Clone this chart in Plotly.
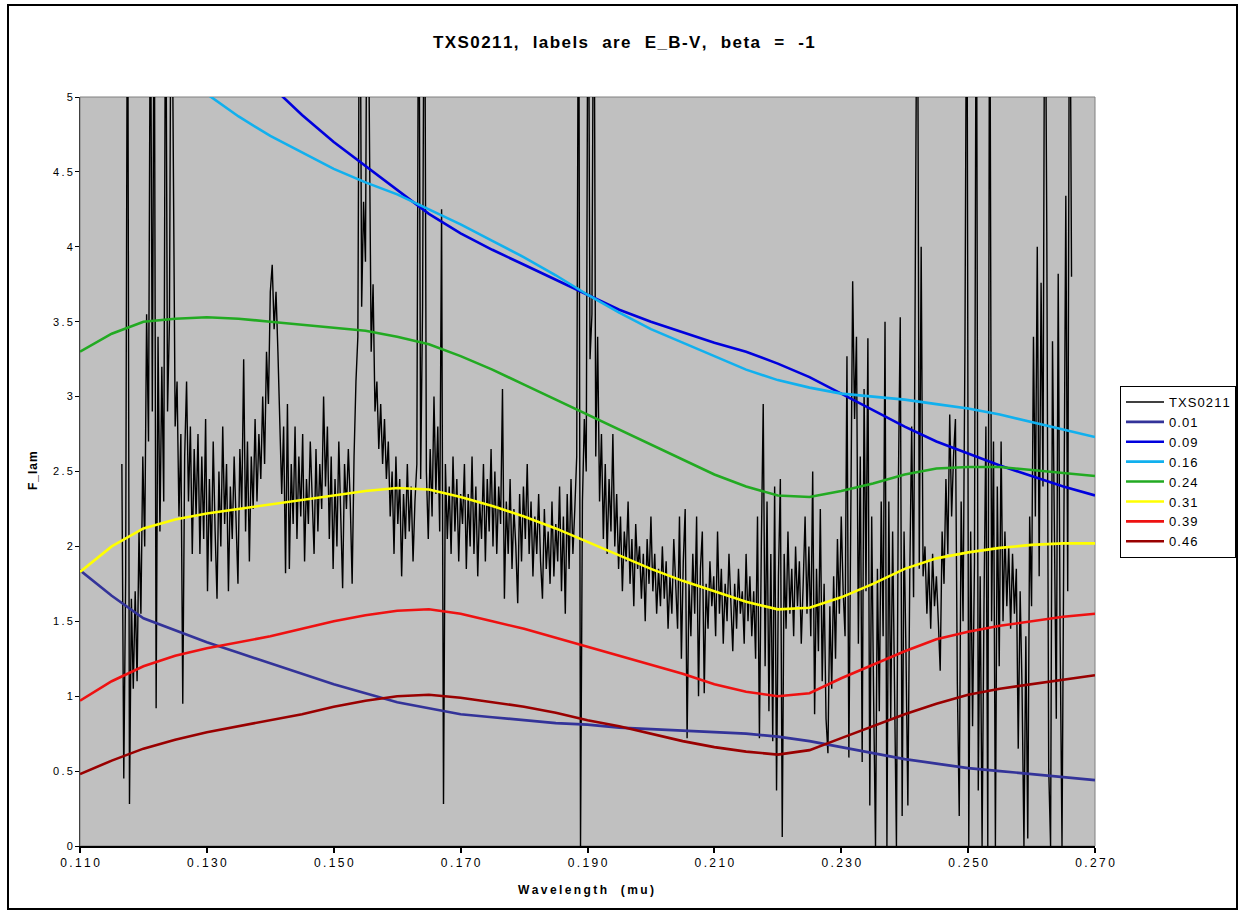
import plotly.graph_objects as go

# ---------------- data ----------------
# TXS0211 spectrum: sampled every WL_STEP microns starting at WL_START
WL_START = 0.1166
WL_STEP = 0.0003
TXS0211_FLUX = [
    2.55, 0.45, 1.80, 6.50, 0.28, 1.65, 1.05, 1.70, 1.10, 2.10, 1.55, 2.60, 2.00, 3.55, 2.70, 6.00, 2.90, 6.00, 0.92, 3.40,
    2.10, 3.20, 2.30, 6.20, 2.90, 3.50, 6.50, 4.40, 2.80, 3.10, 2.20, 2.75, 0.95, 2.60, 3.10, 2.30, 2.80, 1.95, 2.65, 2.20,
    2.75, 1.95, 2.60, 2.05, 2.85, 1.70, 2.45, 1.90, 2.70, 2.10, 1.65, 2.50, 2.00, 2.80, 2.15, 2.55, 1.70, 2.40, 2.05, 2.60,
    2.20, 1.75, 2.65, 2.25, 3.25, 2.10, 2.70, 1.90, 2.60, 2.25, 2.85, 2.30, 2.75, 2.45, 3.00, 2.55, 3.30, 2.95, 3.70, 3.88,
    3.45, 3.70, 3.30, 2.75, 2.35, 2.80, 1.82, 2.95, 1.85, 2.55, 2.15, 2.80, 2.05, 2.60, 2.20, 2.75, 1.90, 2.45, 2.15, 2.70,
    2.30, 1.95, 2.65, 2.10, 2.55, 2.25, 3.00, 2.40, 2.80, 2.05, 2.60, 1.85, 2.45, 2.00, 2.70, 2.20, 1.72, 2.55, 2.25, 2.65,
    2.30, 1.75, 2.60, 3.10, 3.40, 6.50, 3.60, 4.30, 3.90, 6.50, 4.60, 3.30, 3.75, 2.90, 3.10, 2.65, 2.95, 2.55, 2.85, 2.45,
    2.70, 2.20, 2.50, 1.95, 2.60, 2.15, 2.45, 1.80, 2.35, 2.05, 2.55, 2.10, 2.40, 1.90, 2.30, 2.55, 6.50, 2.45, 3.60, 6.50,
    2.50, 2.05, 2.65, 2.20, 3.00, 2.35, 2.80, 2.10, 4.25, 0.28, 2.55, 2.05, 2.40, 1.95, 2.60, 2.10, 2.45, 1.90, 2.35, 2.15,
    2.55, 1.85, 2.35, 2.00, 2.60, 1.95, 2.40, 1.80, 2.30, 2.05, 2.55, 1.90, 2.45, 2.10, 2.65, 2.00, 2.50, 1.95, 2.40, 2.15,
    3.05, 1.65, 2.30, 1.95, 2.45, 1.85, 2.25, 2.00, 1.62, 2.35, 1.90, 2.40, 2.05, 2.55, 1.95, 2.30, 1.80, 2.20, 1.95, 2.35,
    1.90, 1.65, 2.25, 1.85, 2.10, 1.75, 2.30, 1.80, 2.15, 1.90, 2.40, 1.70, 2.20, 1.55, 2.35, 1.85, 2.45, 1.95, 2.25, 2.60,
    6.50, 0.00, 2.30, 2.85, 2.50, 6.50, 3.25, 3.55, 6.50, 2.60, 3.40, 2.30, 2.75, 2.05, 2.55, 1.95, 2.45, 2.10, 2.75, 2.00,
    2.35, 1.85, 2.20, 1.70, 2.10, 1.90, 2.30, 1.75, 2.05, 1.60, 2.15, 1.85, 2.00, 1.65, 1.95, 1.50, 2.05, 1.75, 2.20, 1.70,
    1.95, 1.55, 1.85, 1.60, 2.00, 1.65, 1.90, 1.45, 1.80, 1.55, 2.05, 1.70, 1.45, 2.20, 1.25, 1.90, 2.25, 0.72, 1.75, 1.40,
    1.95, 1.55, 2.20, 1.00, 1.85, 2.10, 1.02, 1.75, 1.45, 1.90, 1.60, 1.80, 1.40, 2.10, 1.55, 1.85, 1.35, 1.75, 1.50, 1.95,
    1.60, 1.30, 1.75, 1.45, 1.85, 1.55, 1.70, 1.35, 1.95, 1.50, 1.80, 1.40, 1.70, 1.25, 2.20, 0.72, 2.00, 2.95, 1.20, 2.30,
    0.90, 1.95, 0.70, 2.40, 0.37, 1.80, 2.45, 0.06, 1.95, 1.45, 2.10, 1.55, 1.85, 1.40, 2.00, 1.60, 1.90, 1.35, 1.75, 2.20,
    1.55, 2.00, 1.40, 2.50, 0.88, 1.85, 1.30, 2.25, 1.10, 1.75, 0.85, 0.62, 1.60, 1.05, 1.80, 1.25, 2.05, 1.55, 2.20, 1.70,
    1.40, 3.27, 0.59, 2.40, 3.77, 2.85, 3.40, 1.35, 2.60, 0.56, 3.05, 1.70, 3.39, 0.27, 2.20, 1.00, 0.00, 1.85, 0.90, 2.30,
    1.40, 3.50, 0.00, 2.30, 0.85, 2.10, 1.20, 0.00, 2.40, 3.53, 0.20, 2.10, 1.30, 0.27, 1.80, 2.80, 1.66, 3.95, 6.50, 1.85,
    4.00, 1.80, 2.00, 1.55, 1.90, 1.45, 1.95, 1.60, 1.80, 1.50, 1.17, 2.10, 1.75, 2.45, 1.95, 2.88, 2.20, 2.60, 2.85, 1.08,
    0.20, 2.30, 1.50, 3.34, 6.50, 0.00, 2.10, 0.80, 1.90, 6.50, 0.37, 1.80, 0.00, 1.60, 2.80, 0.00, 6.50, 1.50, 2.70, 0.00,
    2.40, 1.20, 2.70, 1.50, 2.10, 1.60, 2.00, 1.45, 1.95, 1.55, 1.85, 0.65, 1.70, 1.05, 0.00, 1.40, 0.05, 2.20, 1.60, 3.40,
    2.20, 4.00, 1.80, 3.76, 2.40, 6.50, 4.10, 0.52, 0.00, 3.37, 2.15, 0.85, 3.82, 1.40, 0.00, 2.60, 4.34, 1.70, 6.50, 3.80,
]

# Model curves, one per E(B-V) value, on a common wavelength grid
MODEL_WL = [0.110, 0.115, 0.120, 0.125, 0.130, 0.135, 0.140, 0.145, 0.150, 0.155, 0.160,
            0.165, 0.170, 0.175, 0.180, 0.185, 0.190, 0.195, 0.200, 0.205, 0.210, 0.215,
            0.220, 0.225, 0.230, 0.235, 0.240, 0.245, 0.250, 0.255, 0.260, 0.265, 0.270]
FLUX_E001 = [1.84, 1.67, 1.52, 1.44, 1.36, 1.29, 1.22, 1.15, 1.08, 1.02, 0.96,
             0.92, 0.88, 0.86, 0.84, 0.82, 0.81, 0.79, 0.78, 0.77, 0.76, 0.75,
             0.73, 0.70, 0.66, 0.62, 0.58, 0.55, 0.52, 0.50, 0.48, 0.46, 0.44]
FLUX_E009 = [None, None, None, None, None, None, 5.08, 4.88, 4.70, 4.54, 4.38,
             4.22, 4.09, 3.98, 3.88, 3.78, 3.68, 3.58, 3.50, 3.43, 3.36, 3.30,
             3.22, 3.13, 3.02, 2.91, 2.80, 2.70, 2.62, 2.54, 2.47, 2.40, 2.34]
FLUX_E016 = [None, None, None, None, 5.02, 4.87, 4.74, 4.63, 4.52, 4.43, 4.35,
             4.25, 4.15, 4.04, 3.93, 3.81, 3.68, 3.56, 3.45, 3.36, 3.27, 3.18,
             3.11, 3.06, 3.02, 3.00, 2.98, 2.95, 2.92, 2.88, 2.83, 2.78, 2.73]
FLUX_E024 = [3.30, 3.42, 3.50, 3.52, 3.53, 3.52, 3.50, 3.48, 3.46, 3.44, 3.40,
             3.35, 3.27, 3.18, 3.08, 2.98, 2.88, 2.78, 2.68, 2.58, 2.48, 2.40,
             2.34, 2.33, 2.37, 2.42, 2.48, 2.52, 2.53, 2.53, 2.51, 2.49, 2.47]
FLUX_E031 = [1.83, 2.00, 2.12, 2.18, 2.22, 2.25, 2.28, 2.31, 2.34, 2.37, 2.39,
             2.38, 2.33, 2.27, 2.20, 2.12, 2.03, 1.94, 1.85, 1.77, 1.70, 1.63,
             1.58, 1.59, 1.66, 1.75, 1.85, 1.92, 1.96, 1.99, 2.01, 2.02, 2.02]
FLUX_E039 = [0.97, 1.10, 1.20, 1.27, 1.32, 1.36, 1.40, 1.45, 1.50, 1.54, 1.57,
             1.58, 1.55, 1.50, 1.45, 1.39, 1.33, 1.27, 1.21, 1.15, 1.08, 1.03,
             1.00, 1.02, 1.12, 1.21, 1.30, 1.38, 1.43, 1.47, 1.50, 1.53, 1.55]
FLUX_E046 = [0.48, 0.57, 0.65, 0.71, 0.76, 0.80, 0.84, 0.88, 0.93, 0.97, 1.00,
             1.01, 0.99, 0.96, 0.93, 0.89, 0.84, 0.80, 0.75, 0.70, 0.66, 0.63,
             0.61, 0.64, 0.72, 0.80, 0.88, 0.95, 1.01, 1.05, 1.08, 1.11, 1.14]

E_BV_LABELS = ["0.01", "0.09", "0.16", "0.24", "0.31", "0.39", "0.46"]
MODEL_FLUXES = [FLUX_E001, FLUX_E009, FLUX_E016, FLUX_E024, FLUX_E031, FLUX_E039, FLUX_E046]

X_TICKS = [0.110, 0.130, 0.150, 0.170, 0.190, 0.210, 0.230, 0.250, 0.270]
X_TICK_LABELS = ["0.110", "0.130", "0.150", "0.170", "0.190", "0.210", "0.230", "0.250", "0.270"]
Y_TICKS = [0, 0.5, 1, 1.5, 2, 2.5, 3, 3.5, 4, 4.5, 5]
Y_TICK_LABELS = ["0", "0.5", "1", "1.5", "2", "2.5", "3", "3.5", "4", "4.5", "5"]

TITLE = "TXS0211,  labels  are  E_B-V,  beta  =  -1"
X_TITLE = "Wavelength  (mu)"
Y_TITLE = "F_lam"
SPECTRUM_NAME = "TXS0211"

# ---------------- style ----------------
W, H = 1241, 912
PLOT_L, PLOT_R, PLOT_T, PLOT_B = 80, 1095, 97, 846
FONT = "Liberation Sans, Arial, sans-serif"
MODEL_COLORS = ["#333399", "#0000DD", "#11B0EE", "#22AA22", "#FFFF00", "#EE1111", "#990000"]
THIN = "\u2009"
HAIR = "\u200a"
NBSP = "\u00a0"


def spaced(s, sep=THIN):
    """Widen text with extra tracking between characters."""
    return sep.join(list(s))


def keep_spaces(s):
    return s.replace(" ", NBSP)


def px_x(px):
    return (px - PLOT_L) / (PLOT_R - PLOT_L)


def px_y(py):
    return (PLOT_B - py) / (PLOT_B - PLOT_T)


spectrum_wl = [round(WL_START + i * WL_STEP, 5) for i in range(len(TXS0211_FLUX))]

fig = go.Figure()
fig.add_trace(go.Scatter(
    x=spectrum_wl, y=TXS0211_FLUX, mode="lines", name=spaced(SPECTRUM_NAME, HAIR),
    line=dict(color="black", width=1.4),
))
for label, flux, color in zip(E_BV_LABELS, MODEL_FLUXES, MODEL_COLORS):
    fig.add_trace(go.Scatter(
        x=MODEL_WL, y=flux, mode="lines", name=spaced(label, HAIR),
        line=dict(color=color, width=2.6),
    ))

fig.update_layout(
    width=W, height=H,
    margin=dict(l=PLOT_L, r=W - PLOT_R, t=PLOT_T, b=H - PLOT_B, pad=0, autoexpand=False),
    paper_bgcolor="white",
    plot_bgcolor="#C0C0C0",
    font=dict(family=FONT, size=12, color="black"),
    showlegend=True,
    legend=dict(
        xref="container", yref="container",
        x=1120 / W, y=1 - 386 / H, xanchor="left", yanchor="top",
        bgcolor="white", bordercolor="black", borderwidth=1,
        font=dict(family=FONT, size=13, color="black"),
        tracegroupgap=0, itemwidth=38,
    ),
)

fig.update_xaxes(
    range=[0.110, 0.270], tickmode="array", tickvals=X_TICKS,
    ticktext=[spaced(t) for t in X_TICK_LABELS],
    ticks="outside", ticklen=5, tickwidth=2, tickcolor="black",
    showline=True, linecolor="black", linewidth=2, mirror=False,
    showgrid=False, zeroline=False,
    tickfont=dict(family=FONT, size=12, color="black"),
)
fig.update_yaxes(
    range=[0, 5], tickmode="array", tickvals=Y_TICKS,
    ticktext=[spaced(t) for t in Y_TICK_LABELS],
    ticks="outside", ticklen=4, tickwidth=1, tickcolor="black",
    showline=True, linecolor="#404040", linewidth=1, mirror=False,
    showgrid=False, zeroline=False,
    tickfont=dict(family=FONT, size=11, color="black"),
)

# plot-area frame (grey) and outer chart border
fig.add_shape(type="rect", xref="paper", yref="paper", x0=0, x1=1, y0=0, y1=1,
              line=dict(color="#808080", width=1), layer="below")
fig.add_shape(type="rect", xref="paper", yref="paper",
              x0=px_x(8), x1=px_x(1237), y0=px_y(909), y1=px_y(5),
              line=dict(color="black", width=2))

title_text = (NBSP * 3).join(spaced(w, HAIR) for w in TITLE.split())
fig.add_annotation(text="<b>" + title_text + "</b>",
                   xref="paper", yref="paper", x=px_x(624), y=px_y(42),
                   showarrow=False, font=dict(family=FONT, size=17, color="black"),
                   xanchor="center", yanchor="middle")
fig.add_annotation(text="<b>" + keep_spaces(spaced(X_TITLE, THIN)) + "</b>",
                   xref="paper", yref="paper", x=px_x(586), y=px_y(890),
                   showarrow=False, font=dict(family=FONT, size=12, color="black"),
                   xanchor="center", yanchor="middle")
fig.add_annotation(text="<b>" + spaced(Y_TITLE, HAIR) + "</b>",
                   xref="paper", yref="paper", x=px_x(33), y=px_y(471),
                   showarrow=False, textangle=-90,
                   font=dict(family=FONT, size=12, color="black"),
                   xanchor="center", yanchor="middle")

fig.write_html("out.html")
